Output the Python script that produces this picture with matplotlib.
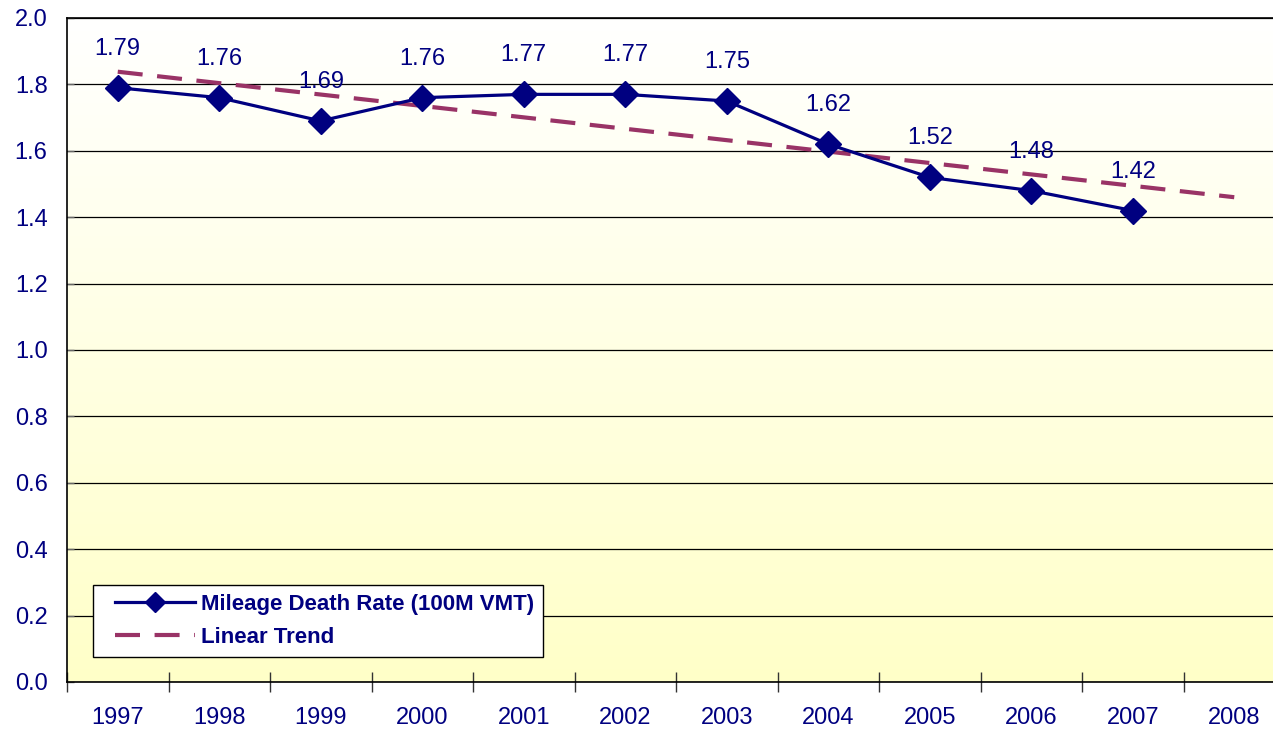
import numpy as np
import matplotlib
matplotlib.use("Agg")
import matplotlib.pyplot as plt
from matplotlib.colors import LinearSegmentedColormap
from matplotlib.legend_handler import HandlerLine2D

years = ["1997", "1998", "1999", "2000", "2001", "2002",
         "2003", "2004", "2005", "2006", "2007", "2008"]
death_rate = [1.79, 1.76, 1.69, 1.76, 1.77, 1.77, 1.75, 1.62, 1.52, 1.48, 1.42]
rate_labels = ["1.79", "1.76", "1.69", "1.76", "1.77", "1.77",
               "1.75", "1.62", "1.52", "1.48", "1.42"]
y_ticks = [0.0, 0.2, 0.4, 0.6, 0.8, 1.0, 1.2, 1.4, 1.6, 1.8, 2.0]

navy = "#000080"
plum = "#993366"
plt.rcParams["font.family"] = ["Liberation Sans", "DejaVu Sans"]

fig = plt.figure(figsize=(12.73, 7.3), dpi=100)
# plot area runs a little past the right edge, like the original export
ax = fig.add_axes([67 / 1273, 48 / 730, 1218 / 1273, 664 / 730])

x = np.arange(len(death_rate))

# background gradient, white at top to pale yellow at the bottom
cmap = LinearSegmentedColormap.from_list("bg", ["#ffffff", "#ffffc8"])
grad = np.linspace(0, 1, 256).reshape(-1, 1)
ax.imshow(grad, aspect="auto", cmap=cmap, extent=[-0.5, 11.5, 0.0, 2.0],
          zorder=0, interpolation="bicubic")

# linear trend of the data, extended one year forward
slope, icpt = np.polyfit(x, death_rate, 1)
xt = np.array([0, len(years) - 1])
ax.plot(xt, slope * xt + icpt, color=plum, lw=3, dashes=(6, 3.5),
        label="Linear Trend", zorder=3)

ax.plot(x, death_rate, color=navy, lw=2.3, marker="D", markersize=13,
        label="Mileage Death Rate (100M VMT)", zorder=4)

for xi, yi, lab in zip(x, death_rate, rate_labels):
    ax.annotate(lab, (xi, yi), xytext=(0, 28), textcoords="offset points",
                ha="center", va="center", fontsize=17, color=navy, zorder=5)

ax.set_xlim(-0.5, 11.5)
ax.set_ylim(0, 2.0)
ax.set_yticks(y_ticks)
ax.set_yticklabels([f"{v:.1f}" for v in y_ticks])
ax.tick_params(axis="y", direction="in", length=5, width=1, color="#666666",
               labelsize=17, labelcolor=navy, pad=14)
ax.grid(axis="y", color="black", lw=0.9, zorder=1)

ax.set_xticks(np.arange(-0.5, 11.5, 1.0))
ax.set_xticklabels([])
ax.set_xticks(np.arange(len(years)), minor=True)
ax.set_xticklabels(years, minor=True)
ax.tick_params(axis="x", which="major", direction="inout", length=14,
               width=1, color="#333333")
ax.tick_params(axis="x", which="minor", length=0, labelsize=17,
               labelcolor=navy, pad=18)

for s in ["left", "bottom", "top"]:
    ax.spines[s].set_color("black")
    ax.spines[s].set_linewidth(1.2)
ax.spines["right"].set_visible(False)

handles, labels = ax.get_legend_handles_labels()
leg = ax.legend(handles[::-1], labels[::-1], loc="lower left",
                bbox_to_anchor=(26 / 1218, 25 / 664), frameon=True,
                fancybox=False, edgecolor="black", facecolor="white",
                framealpha=1, handlelength=4.2, handletextpad=0.25,
                borderpad=0.4, labelspacing=0.55, borderaxespad=0,
                markerscale=0.75, prop={"size": 16, "weight": "bold"},
                handler_map={h: HandlerLine2D(xpad=0.6) for h in handles})
leg.get_frame().set_linewidth(1)
for t in leg.get_texts():
    t.set_color(navy)

fig.savefig("out.png", dpi=100)
